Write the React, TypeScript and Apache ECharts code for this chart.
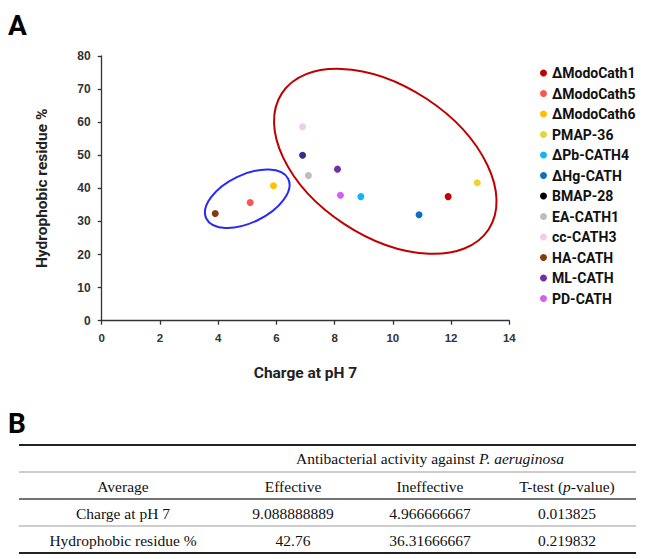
import React, { useEffect, useRef } from 'react';
import * as echarts from 'echarts';

// ---- Data (panel A) ----
const peptideNames = [
  'ΔModoCath1', 'ΔModoCath5', 'ΔModoCath6', 'PMAP-36', 'ΔPb-CATH4', 'ΔHg-CATH',
  'BMAP-28', 'EA-CATH1', 'cc-CATH3', 'HA-CATH', 'ML-CATH', 'PD-CATH',
];
const chargeAtPH7 = [11.9, 5.1, 5.9, 12.9, 8.9, 10.9, 6.9, 7.1, 6.9, 3.9, 8.1, 8.2];
const hydrophobicPct = [37.5, 35.75, 40.8, 41.7, 37.5, 32.0, 50.0, 43.9, 58.6, 32.4, 45.8, 37.9];

// ---- Data (panel B table) ----
const tableGroupTitle = 'Antibacterial activity against {i|P. aeruginosa}';
const tableHeaders = ['Average', 'Effective', 'Ineffective', 'T-test ({i|p}-value)'];
const tableRowLabels = ['Charge at pH 7', 'Hydrophobic residue %'];
const effectiveValues = ['9.088888889', '42.76'];
const ineffectiveValues = ['4.966666667', '36.31666667'];
const pValues = ['0.013825', '0.219832'];

// ---- Styles ----
const pointColors = [
  '#c00000', '#ff5353', '#ffc000', '#e8d52e', '#12b4f2', '#0a70c4',
  '#2e3192', '#bdbdbd', '#f3cbe9', '#843c0c', '#7030a0', '#d65cf5',
];
const legendColorOverride: Record<string, string> = { 'BMAP-28': '#000000' };

// group outlines (center in data units, radii in px, rotation in rad)
const groupOutlines = [
  { center: [9.74, 48.17], rx: 123.7, ry: 74.9, rotation: -0.583, color: '#c00000' },
  { center: [5.0, 36.87], rx: 45.5, ry: 23.9, rotation: 0.449, color: '#2a2af5' },
];

const sansBold = 'Roboto, "Liberation Sans", Arial, sans-serif';
const serif = '"Liberation Serif", "Times New Roman", serif';

export default function App() {
  const ref = useRef<HTMLDivElement>(null);

  useEffect(() => {
    if (!ref.current) return;
    const chart = echarts.init(ref.current, undefined, { renderer: 'svg' });

    const series = peptideNames.map((name, i) => ({
      name,
      type: 'scatter' as const,
      data: [[chargeAtPH7[i], hydrophobicPct[i]]],
      symbol: 'circle',
      symbolSize: 7,
      itemStyle: { color: pointColors[i], opacity: 1 },
      emphasis: { disabled: true },
    }));

    chart.setOption({
      animation: false,
      grid: { left: 101.7, right: 145.7, top: 56, bottom: 238.3, containLabel: false },
      xAxis: {
        type: 'value',
        min: 0,
        max: 14,
        interval: 2,
        name: 'Charge at pH 7',
        nameLocation: 'middle',
        nameGap: 44,
        nameTextStyle: { fontFamily: sansBold, fontWeight: 'bold', fontSize: 15.5, color: '#222' },
        axisLine: { show: true, lineStyle: { color: '#333', width: 1.3 } },
        axisTick: { show: true, inside: false, length: 4, lineStyle: { color: '#333', width: 1.3 } },
        axisLabel: { margin: 11, fontFamily: '"Liberation Sans", Arial, sans-serif', fontWeight: 'bold', fontSize: 11.5, color: '#333' },
        splitLine: { show: false },
      },
      yAxis: {
        type: 'value',
        min: 0,
        max: 80,
        interval: 10,
        name: 'Hydrophobic residue %',
        nameLocation: 'middle',
        nameGap: 52,
        nameTextStyle: { fontFamily: sansBold, fontWeight: 'bold', fontSize: 15.5, color: '#222' },
        axisLine: { show: true, lineStyle: { color: '#333', width: 1.3 } },
        axisTick: { show: true, inside: false, length: 4, lineStyle: { color: '#333', width: 1.3 } },
        axisLabel: { margin: 11, fontFamily: '"Liberation Sans", Arial, sans-serif', fontWeight: 'bold', fontSize: 12, color: '#333' },
        splitLine: { show: false },
      },
      legend: {
        orient: 'vertical',
        left: 540,
        top: 66,
        padding: 0,
        itemWidth: 7,
        itemHeight: 14,
        itemGap: 6.5,
        icon: 'circle',
        selectedMode: false,
        textStyle: { fontFamily: sansBold, fontWeight: 'bold', fontSize: 14, color: '#111', lineHeight: 14 },
        data: peptideNames.map((name) =>
          legendColorOverride[name] ? { name, itemStyle: { color: legendColorOverride[name] } } : { name }
        ),
      },
      series,
    });

    // ---- graphic overlay: panel letters, group outlines and table ----
    const graphics: any[] = [];
    graphics.push({
      type: 'text', x: 8, y: 25,
      style: { text: 'A', fontFamily: sansBold, fontWeight: 'bold', fontSize: 28, fill: '#000', verticalAlign: 'middle' },
    });
    graphics.push({
      type: 'text', x: 8, y: 423,
      style: { text: 'B', fontFamily: sansBold, fontWeight: 'bold', fontSize: 28, fill: '#000', verticalAlign: 'middle' },
    });

    groupOutlines.forEach((g) => {
      const p = chart.convertToPixel({ gridIndex: 0 }, g.center) as number[];
      graphics.push({
        type: 'ellipse',
        x: p[0],
        y: p[1],
        rotation: g.rotation,
        shape: { cx: 0, cy: 0, rx: g.rx, ry: g.ry },
        style: { fill: 'none', stroke: g.color, lineWidth: 2 },
        z: 1,
        silent: true,
      });
    });

    const tLeft = 19;
    const tRight = 636;
    const hLine = (y: number, w: number, c: string) => ({
      type: 'line',
      shape: { x1: tLeft, y1: y, x2: tRight, y2: y },
      style: { stroke: c, lineWidth: w },
      silent: true,
    });
    graphics.push(hLine(445, 2, '#222'));
    graphics.push(hLine(472, 1, '#9a9a9a'));
    graphics.push(hLine(499, 1.3, '#444'));
    graphics.push(hLine(526, 1, '#9a9a9a'));
    graphics.push(hLine(553, 2, '#222'));

    const colX = [123, 293, 430, 567];
    const cell = (x: number, y: number, text: string) => ({
      type: 'text',
      x,
      y,
      style: {
        text,
        fontFamily: serif,
        fontSize: 15.5,
        fill: '#111',
        align: 'center',
        verticalAlign: 'middle',
        rich: { i: { fontStyle: 'italic', fontFamily: serif, fontSize: 15.5, fill: '#111' } },
      },
      silent: true,
    });
    graphics.push(cell(430, 458.5, tableGroupTitle));
    tableHeaders.forEach((h, i) => graphics.push(cell(colX[i], 486, h)));
    tableRowLabels.forEach((r, i) => {
      const y = 513 + i * 27;
      graphics.push(cell(colX[0], y, r));
      graphics.push(cell(colX[1], y, effectiveValues[i]));
      graphics.push(cell(colX[2], y, ineffectiveValues[i]));
      graphics.push(cell(colX[3], y, pValues[i]));
    });

    chart.setOption({ graphic: graphics });

    return () => chart.dispose();
  }, []);

  return (
    <div
      ref={ref}
      style={{ position: 'absolute', left: 0, top: 0, width: 655, height: 559, background: '#fff' }}
    />
  );
}
